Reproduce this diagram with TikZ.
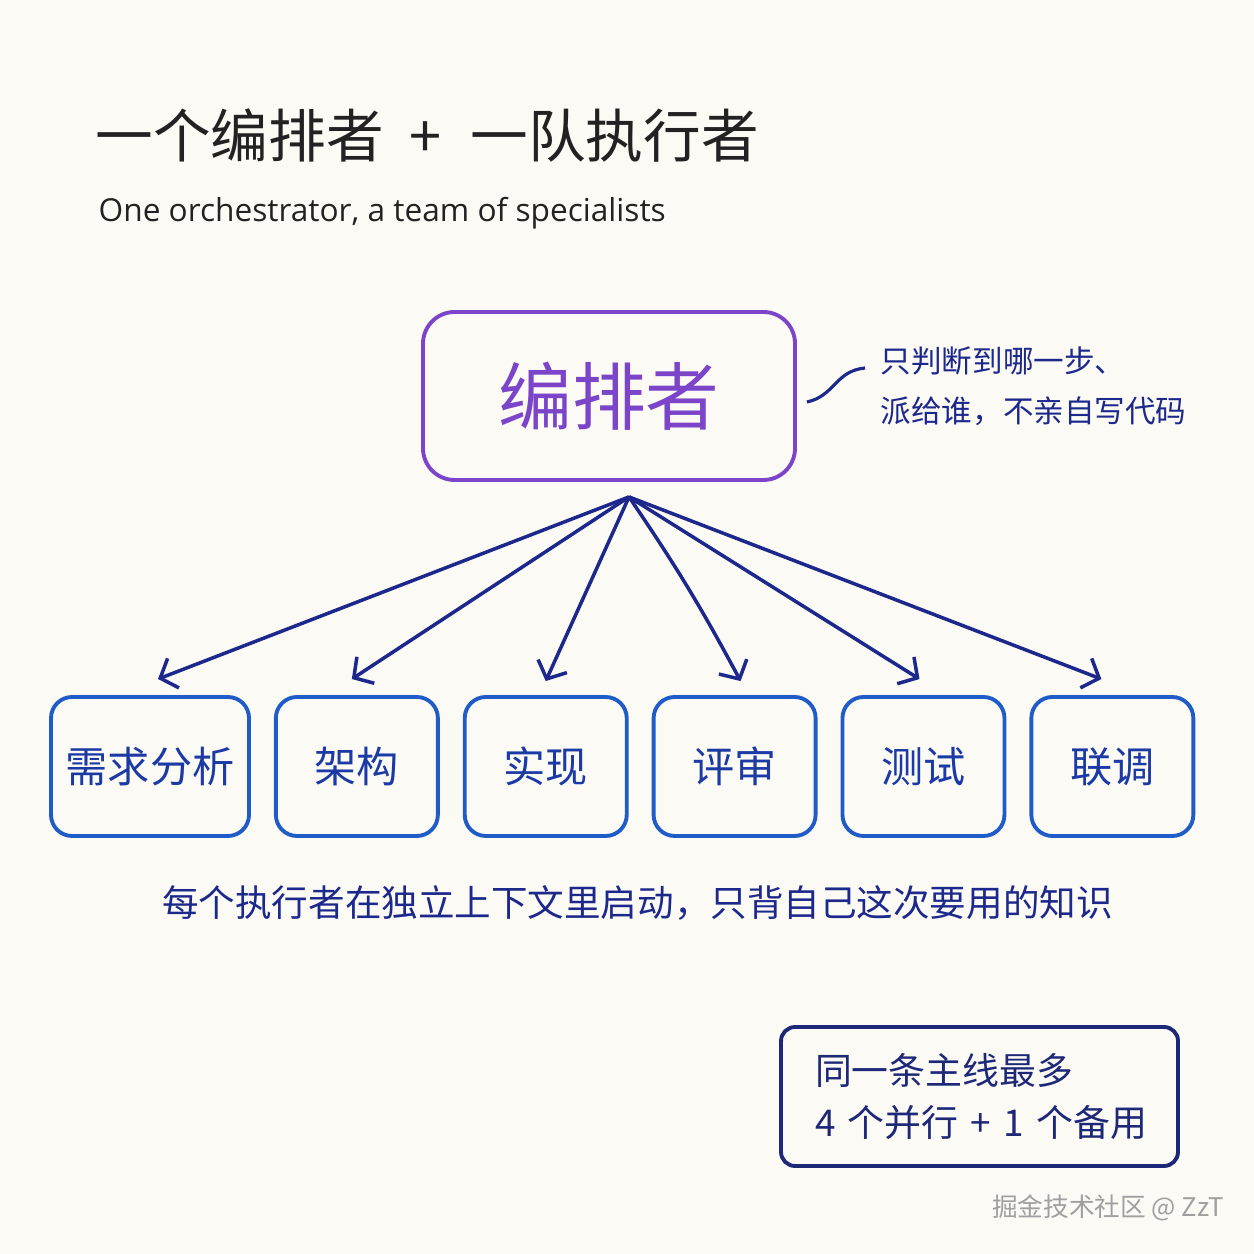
\documentclass[tikz,border=0pt]{standalone}
\usepackage{fontspec}
\setmainfont{Noto Sans CJK SC}
\newfontfamily\latinfont{Open Sans}
\usepackage{xcolor}
\usepackage{tikz}
\usetikzlibrary{arrows.meta, positioning}
\definecolor{paper}{RGB}{251,250,245}
\definecolor{inkcolor}{RGB}{34,34,34}
\definecolor{orchcolor}{RGB}{124,68,200}
\definecolor{agentcolor}{RGB}{32,92,200}
\definecolor{agenttext}{RGB}{28,58,165}
\definecolor{navycolor}{RGB}{28,40,140}
\definecolor{notecolor}{RGB}{30,40,120}

\begin{document}
\begin{tikzpicture}[
    node distance=0.23cm,
    title/.style={inner sep=0, text=inkcolor, font=\fontsize{16.4}{16.4}\selectfont},
    subtitle/.style={inner sep=0, text=inkcolor, font=\latinfont\fontsize{9}{9}\selectfont},
    orch/.style={rectangle, draw=orchcolor, line width=1.1pt, rounded corners=9pt,
                 minimum width=3.72cm, minimum height=1.68cm, text=orchcolor,
                 font=\fontsize{21}{21}\selectfont},
    agent/.style={rectangle, draw=agentcolor, line width=1.1pt, rounded corners=6pt,
                  minimum width=1.62cm, minimum height=1.39cm, text=agenttext,
                  font=\fontsize{12}{12}\selectfont},
    annot/.style={inner sep=0, align=left, text=navycolor, font=\fontsize{8.7}{14.2}\selectfont},
    caption/.style={inner sep=0, text=navycolor, font=\fontsize{10.4}{10.4}\selectfont},
    notebox/.style={rectangle, draw=notecolor, line width=1.1pt, rounded corners=4pt,
                    minimum height=1.39cm, text width=3.29cm, inner xsep=0.34cm, align=left,
                    text=notecolor, font=\fontsize{10.5}{15}\selectfont},
    credit/.style={inner sep=0, text=gray!75, font=\fontsize{7.3}{7.3}\selectfont},
    arr/.style={-{Straight Barb[length=4pt,width=9pt]}, line width=1pt, navycolor},
    link/.style={line width=0.9pt, navycolor}
]
\fill[paper] (0,0) rectangle (12.54,12.54);
\useasboundingbox (0,0) rectangle (12.54,12.54);

\node[title, anchor=base west] (title) at (0.95,10.96) {一个编排者\hspace{0.45em}+\hspace{0.5em}一队执行者};
\node[subtitle, anchor=base west] (sub) at (0.98,10.32) {One orchestrator, a team of specialists};

\node[orch] (orch) at (6.09,8.58) {编排者};
\node[annot, anchor=north west] (ann) at (8.80,9.08) {只判断到哪一步、\\派给谁，不亲自写代码};
\draw[link] ([xshift=0.1cm,yshift=-0.06cm]orch.east) .. controls +(0.28,0.06) and +(-0.3,-0.03) .. ([xshift=-0.15cm,yshift=-0.22cm]ann.north west);

\node[agent, minimum width=1.98cm] (b1) at (1.50,4.875) {需求分析};
\node[agent, right=of b1] (b2) {架构};
\node[agent, right=of b2] (b3) {实现};
\node[agent, right=of b3] (b4) {评审};
\node[agent, right=of b4] (b5) {测试};
\node[agent, right=of b5] (b6) {联调};

\coordinate (hub) at ([xshift=0.2cm,yshift=-0.15cm]orch.south);
\draw[arr] (hub) -- ([xshift=0.08cm,yshift=0.16cm]b1.north);
\draw[arr] (hub) -- ([xshift=-0.05cm,yshift=0.16cm]b2.north);
\draw[arr] (hub) -- ([yshift=0.14cm]b3.north);
\draw[arr] (hub) to[bend left=3] ([xshift=0.06cm,yshift=0.14cm]b4.north);
\draw[arr] (hub) -- ([xshift=-0.04cm,yshift=0.16cm]b5.north);
\draw[arr] (hub) -- ([xshift=-0.11cm,yshift=0.16cm]b6.north);

\node[caption] (cap) at (6.375,3.51) {每个执行者在独立上下文里启动，只背自己这次要用的知识};

\node[notebox] (limit) at (9.795,1.575) {同一条主线最多\\4~个并行~+~1~个备用};

\node[credit] (credit) at (11.08,0.46) {掘金技术社区 @ ZzT};
\end{tikzpicture}
\end{document}
